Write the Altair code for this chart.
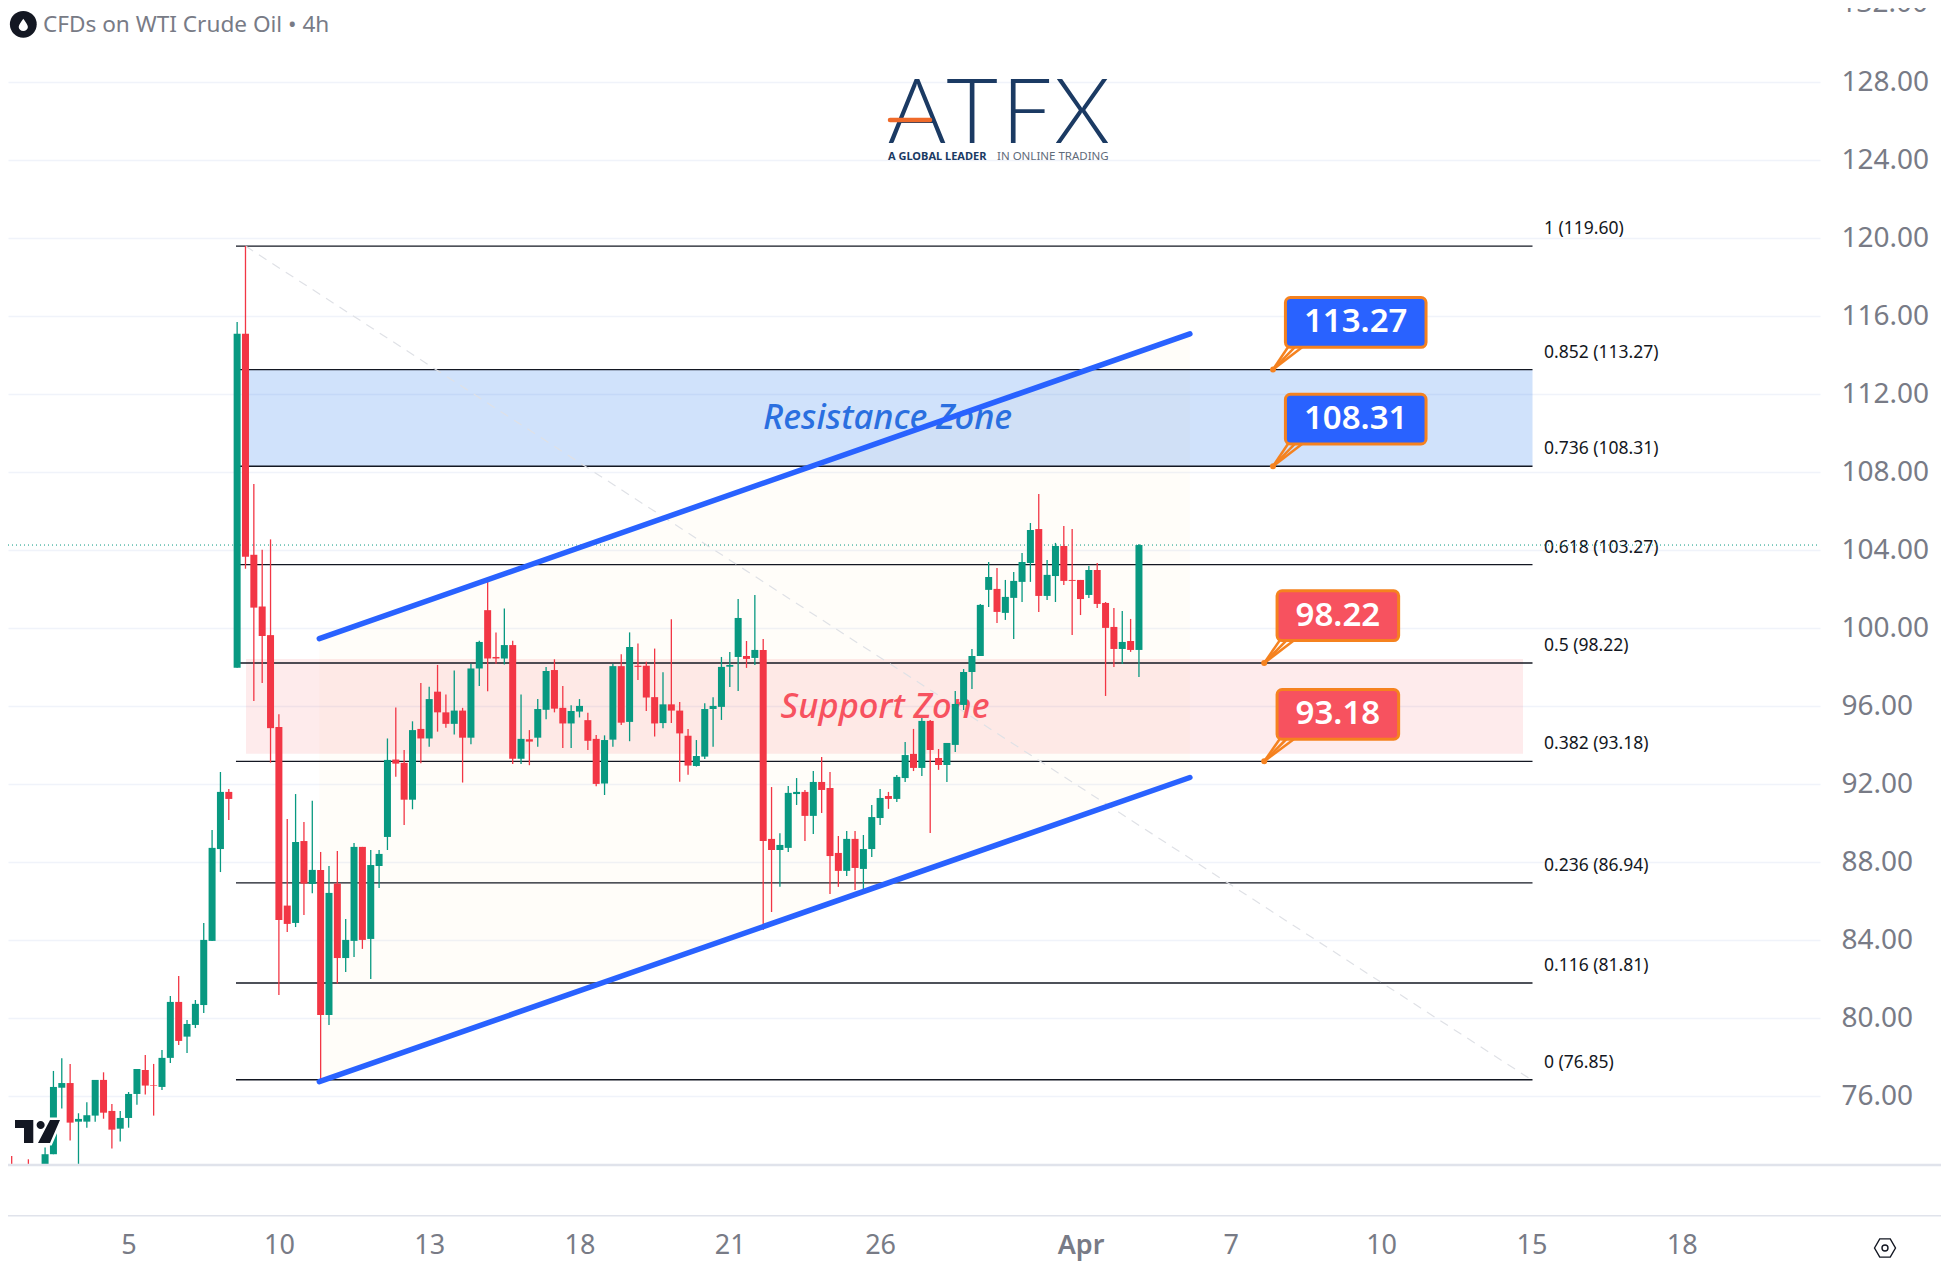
import altair as alt
import pandas as pd

# price per 4h bar
opens = [72.0, 72.4, 71.8, 72.3, 72.0, 72.1, 73.03, 76.44, 76.68, 74.70, 74.70, 75.01, 76.84, 75.25, 74.34, 74.89,
         76.12, 77.35, 76.58, 76.48, 77.97, 80.84, 79.06, 79.66, 80.68, 83.97, 88.68, 91.61, 97.98, 115.10, 103.77,
         101.12, 99.65, 94.94, 85.78, 84.89, 89.09, 86.89, 87.61, 80.17, 86.91, 83.09, 83.97, 88.79, 84.07, 87.81,
         89.30, 93.27, 93.10, 91.21, 94.84, 94.35, 96.75, 95.69, 95.10, 95.78, 94.39, 97.94, 100.93, 98.53, 98.45,
         99.14, 93.31, 94.31, 94.39, 95.82, 97.86, 95.92, 95.12, 95.73, 95.29, 94.33, 92.04, 94.29, 98.06, 95.20,
         98.08, 98.08, 96.47, 95.14, 96.10, 95.78, 94.49, 92.94, 93.42, 95.86, 95.97, 98.03, 98.53, 98.58, 98.48,
         98.89, 89.20, 88.63, 88.74, 91.50, 91.61, 90.38, 92.12, 91.81, 88.48, 87.56, 89.20, 87.66, 88.68, 90.27,
         91.40, 91.25, 92.32, 93.56, 92.84, 95.25, 93.35, 92.99, 94.02, 96.07, 97.76, 98.58, 101.97, 102.02, 100.79,
         101.56, 102.38, 103.35, 105.09, 101.66, 102.68, 104.22, 102.48, 102.48, 101.71, 102.99, 101.30, 100.07,
         98.94, 99.35, 98.89]
highs = [73.33, 72.94, 72.3, 72.77, 72.4, 73.38, 77.30, 77.95, 77.66, 75.13, 75.69, 76.84, 77.23, 75.61, 75.25, 76.22,
         77.40, 78.12, 77.66, 78.38, 81.15, 82.17, 79.91, 80.94, 84.89, 89.66, 92.63, 91.76, 115.71, 119.60, 107.40,
         104.03, 104.56, 95.59, 90.22, 91.50, 90.07, 91.15, 88.53, 87.81, 88.58, 85.09, 88.99, 88.79, 88.63, 88.63,
         94.35, 95.94, 93.76, 95.23, 97.20, 97.00, 98.12, 96.61, 97.84, 95.92, 98.18, 99.36, 102.40, 99.79, 101.02,
         99.36, 96.61, 94.78, 96.37, 98.02, 98.41, 97.04, 96.06, 96.37, 95.67, 94.53, 94.51, 98.18, 98.67, 99.79,
         99.22, 98.28, 98.96, 97.75, 100.47, 96.22, 94.84, 94.27, 96.15, 96.46, 98.53, 98.79, 101.50, 99.35, 101.71,
         99.45, 91.86, 89.49, 91.91, 92.32, 91.71, 92.68, 93.40, 92.63, 89.35, 89.61, 89.61, 89.40, 90.94, 91.76,
         91.61, 92.48, 94.17, 94.84, 95.40, 95.30, 93.81, 94.12, 96.79, 97.91, 98.94, 101.25, 103.40, 103.09, 102.48,
         102.89, 103.86, 105.40, 106.89, 103.50, 104.38, 105.25, 105.09, 102.48, 103.20, 103.35, 101.35, 101.04,
         100.89, 100.48, 104.32]
lows = [71.9, 71.8, 71.7, 71.9, 71.9, 72.0, 73.03, 75.38, 73.73, 72.53, 74.39, 74.70, 74.85, 73.32, 73.68, 74.39,
        75.57, 76.09, 75.01, 76.32, 77.71, 78.63, 78.22, 79.50, 80.27, 83.97, 87.50, 90.17, 97.98, 103.05, 96.27,
        97.20, 93.11, 81.20, 84.43, 84.68, 85.30, 86.41, 76.85, 79.66, 81.79, 82.38, 83.15, 83.56, 82.02, 86.68,
        88.63, 92.39, 89.91, 90.72, 93.08, 93.92, 94.70, 94.90, 94.55, 92.09, 94.06, 97.04, 96.77, 98.18, 98.14,
        93.04, 93.04, 92.98, 93.92, 95.33, 95.69, 93.86, 93.86, 95.43, 93.76, 91.90, 91.45, 93.92, 95.04, 94.21,
        97.35, 95.76, 94.45, 94.88, 95.14, 92.13, 92.49, 92.91, 93.30, 93.93, 95.30, 96.99, 96.79, 97.97, 98.12,
        84.53, 85.45, 86.74, 88.53, 90.94, 89.09, 89.45, 90.53, 86.38, 86.74, 87.30, 86.58, 86.58, 88.27, 89.91,
        90.74, 91.09, 92.12, 92.68, 92.43, 89.50, 92.74, 92.12, 93.66, 95.81, 96.89, 98.58, 101.09, 100.27, 100.43,
        99.45, 101.35, 102.38, 100.84, 101.45, 101.35, 102.22, 99.66, 100.68, 101.56, 101.04, 96.53, 98.02,
        98.17, 98.79, 97.50]
closes = [72.3, 72.0, 72.1, 72.0, 72.3, 73.03, 76.48, 76.68, 74.65, 74.84, 75.03, 76.84, 75.16, 74.29, 74.89, 76.12,
          77.40, 76.55, 76.55, 77.97, 80.84, 78.84, 79.71, 80.74, 84.02, 88.74, 91.61, 91.25, 115.10, 103.67, 101.06,
          99.61, 94.88, 85.04, 84.84, 89.04, 86.91, 87.61, 80.17, 86.43, 83.09, 84.02, 88.79, 84.02, 87.86, 88.43,
          93.25, 93.06, 91.21, 94.78, 94.35, 96.37, 95.69, 95.10, 95.78, 94.39, 97.94, 99.30, 98.45, 98.45, 99.14,
          93.31, 94.33, 94.19, 95.86, 97.81, 95.88, 95.12, 95.76, 96.02, 94.23, 92.02, 94.27, 98.06, 95.16, 99.04,
          98.02, 96.45, 95.12, 96.10, 95.78, 94.61, 92.96, 93.45, 95.86, 96.02, 98.02, 98.12, 100.53, 98.43, 98.89,
          89.09, 88.63, 88.89, 91.56, 91.61, 90.38, 92.12, 91.71, 88.32, 87.56, 89.20, 87.71, 88.68, 90.32, 91.30,
          91.25, 92.38, 93.50, 92.84, 95.25, 93.76, 92.99, 94.12, 96.12, 97.76, 98.58, 101.20, 102.63, 100.84, 101.61,
          102.43, 103.40, 105.04, 101.66, 102.74, 104.22, 102.43, 102.43, 101.50, 102.99, 101.25, 100.02, 98.94,
          99.30, 98.89, 104.27]

fib_levels = ["1", "0.852", "0.736", "0.618", "0.5", "0.382", "0.236", "0.116", "0"]
fib_prices = [119.60, 113.27, 108.31, 103.27, 98.22, 93.18, 86.94, 81.81, 76.85]

price_ticks = [76, 80, 84, 88, 92, 96, 100, 104, 108, 112, 116, 120, 124, 128]
date_ticks = [15, 33, 51, 69, 87, 105, 129, 147, 165, 183, 201]
date_labels = ["5", "10", "13", "18", "21", "26", "Apr", "7", "10", "15", "18"]

channel_bars = [37.84, 142.1]
channel_upper = [99.47, 115.10]
channel_lower = [76.75, 92.35]

callout_labels = ["113.27", "108.31", "98.22", "93.18"]
callout_left = [153.54, 153.54, 152.54, 152.54]
callout_right = [170.38, 170.38, 167.1, 167.1]
callout_top = [116.96, 112.0, 101.92, 96.86]
callout_bottom = [114.41, 109.45, 99.37, 94.31]
callout_anchor = [152.05, 152.05, 151.0, 151.0]
callout_price = [113.27, 108.31, 98.22, 93.18]
callout_fill = ["#2962ff", "#2962ff", "#f7525f", "#f7525f"]

FONT = "Noto Sans"
GREY = "#787b86"
ORANGE = "#f5821f"
RED = "#f23645"
GREEN = "#089981"

x_scale = alt.Scale(domain=[0.559, 217.56], nice=False, zero=False, padding=0)
y_scale = alt.Scale(domain=[72.477, 131.81], nice=False, zero=False, padding=0)

x_axis = alt.Axis(
    values=date_ticks,
    labelExpr=f"{date_labels}[indexof({date_ticks}, datum.value)]",
    grid=False, domain=False, ticks=False, title=None,
    labelFont=FONT, labelFontSize=27, labelColor=GREY,
    labelFontWeight=alt.condition("datum.value == 129", alt.value(600), alt.value(400)),
    labelPadding=67, labelOverlap=False, labelFlush=False,
)
y_axis = alt.Axis(
    orient="right",
    values=price_ticks,
    format=".2f",
    grid=True, gridColor="#f0f3fa", gridWidth=1.3, title=None,
    domain=False, ticks=False,
    labelFont=FONT, labelFontSize=28, labelColor=GREY,
    labelPadding=21, labelOverlap=False, labelFlush=False,
)


def x_pos(field):
    return alt.X(field, type="quantitative", scale=x_scale, axis=x_axis)


def y_pos(field):
    return alt.Y(field, type="quantitative", scale=y_scale, axis=y_axis)


candles = pd.DataFrame({"bar": list(range(len(opens))), "open": opens, "high": highs, "low": lows, "close": closes})
candles["side"] = ["up" if c >= o else "down" for o, c in zip(opens, closes)]
side_color = alt.Color("side:N", scale=alt.Scale(domain=["up", "down"], range=[GREEN, RED]), legend=None)

fibs = pd.DataFrame({"price": fib_prices, "start": 27.86, "end": 183.13, "label_x": 184.5})
fibs["label"] = [f"{lv} ({p:.2f})" for lv, p in zip(fib_levels, fib_prices)]

channel = pd.DataFrame({"bar": channel_bars, "upper": channel_upper, "lower": channel_lower})

zones = pd.DataFrame({
    "left": [29.06, 29.06], "right": [183.13, 181.99],
    "top": [113.27, 98.42], "bottom": [108.31, 93.57],
    "fill": ["#2979ef", "#f23645"], "opacity": [0.22, 0.1],
})
zone_text = pd.DataFrame({
    "label": ["Resistance Zone", "Support Zone"], "bar": [105.9, 105.6], "price": [110.74, 95.93],
    "fill": ["#2a6fe0", "#f7525f"],
})

callouts = pd.DataFrame({
    "label": callout_labels, "left": callout_left, "right": callout_right, "top": callout_top,
    "bottom": callout_bottom, "anchor": callout_anchor, "price": callout_price, "fill": callout_fill,
})
callouts["mid"] = [(t + b) / 2 for t, b in zip(callout_top, callout_bottom)]
callouts["center"] = [(l + r) / 2 for l, r in zip(callout_left, callout_right)]
callouts["tail_a"] = [l + 0.3 for l in callout_left]
callouts["tail_b"] = [l + 2.0 for l in callout_left]
callouts["tail_c"] = [l + 1.1 for l in callout_left]

blank = pd.DataFrame({"a": [0]})


def pinned_text(text, x, y, **style):
    # page pixels, the chart itself starts at 8,8
    return (
        alt.Chart(blank)
        .mark_text(text=text, **style)
        .encode(x=alt.value(x - 8), y=alt.value(y - 8))
    )


def pinned_shape(path, x, y, size, **style):
    return (
        alt.Chart(blank)
        .mark_point(shape=path, size=size, **style)
        .encode(x=alt.value(x - 8), y=alt.value(y - 8))
    )


def page_rule(y, width):
    return (
        alt.Chart(blank)
        .mark_rule(color="#e0e3eb", strokeWidth=width)
        .encode(x=alt.value(-8), x2=alt.value(1933), y=alt.value(y - 8))
    )


channel_fill = (
    alt.Chart(channel)
    .mark_area(color="#ff9800", opacity=0.025)
    .encode(x=x_pos("bar"), y=y_pos("upper"), y2="lower:Q")
)
zone_rects = (
    alt.Chart(zones)
    .mark_rect()
    .encode(
        x=x_pos("left"), x2="right:Q", y=y_pos("top"), y2="bottom:Q",
        color=alt.Color("fill:N", scale=None),
        opacity=alt.Opacity("opacity:Q", scale=None),
    )
)
fib_rules = (
    alt.Chart(fibs)
    .mark_rule(color="#131722", strokeWidth=1.3)
    .encode(x=x_pos("start"), x2="end:Q", y=y_pos("price"))
)
fib_text = (
    alt.Chart(fibs)
    .mark_text(font=FONT, fontSize=17.5, color="#131722", align="left", baseline="middle", dy=-17)
    .encode(x=x_pos("label_x"), y=y_pos("price"), text="label:N")
)
diagonal = (
    alt.Chart(pd.DataFrame({"bar": [29, 183], "price": [119.60, 76.85]}))
    .mark_line(color="#dfe1e6", strokeWidth=1.2, strokeDash=[9, 7])
    .encode(x=x_pos("bar"), y=y_pos("price"))
)
last_price = (
    alt.Chart(pd.DataFrame({"price": [closes[-1]]}))
    .mark_rule(color=GREEN, strokeWidth=1, strokeDash=[1, 3])
    .encode(x=alt.value(0), x2=alt.value(1812), y=y_pos("price"))
)
zone_labels = (
    alt.Chart(zone_text)
    .mark_text(font=FONT, fontSize=34.5, fontStyle="italic", fontWeight=500, baseline="middle")
    .encode(x=x_pos("bar"), y=y_pos("price"), text="label:N", color=alt.Color("fill:N", scale=None))
)
wicks = (
    alt.Chart(candles)
    .mark_rule(strokeWidth=1.3, clip=True)
    .encode(x=x_pos("bar"), y=y_pos("low"), y2="high:Q", color=side_color)
)
bodies = (
    alt.Chart(candles)
    .mark_bar(size=7, orient="vertical", clip=True)
    .encode(x=x_pos("bar"), y=y_pos("open"), y2="close:Q", color=side_color)
)


def channel_line(field):
    return (
        alt.Chart(channel)
        .mark_line(color="#2962ff", strokeWidth=5.5, strokeCap="round")
        .encode(x=x_pos("bar"), y=y_pos(field))
    )


def tail(end_field, width):
    return (
        alt.Chart(callouts)
        .mark_rule(color=ORANGE, strokeWidth=width)
        .encode(x=x_pos("anchor"), x2=f"{end_field}:Q", y=y_pos("price"), y2="bottom:Q")
    )


anchor_dots = (
    alt.Chart(callouts)
    .mark_point(filled=True, color=ORANGE, size=36, opacity=1)
    .encode(x=x_pos("anchor"), y=y_pos("price"))
)
callout_boxes = (
    alt.Chart(callouts)
    .mark_rect(stroke=ORANGE, strokeWidth=3, cornerRadius=5)
    .encode(
        x=x_pos("left"), x2="right:Q", y=y_pos("top"), y2="bottom:Q",
        color=alt.Color("fill:N", scale=None),
    )
)
callout_text = (
    alt.Chart(callouts)
    .mark_text(font=FONT, fontSize=33, fontWeight=600, color="white", baseline="middle")
    .encode(x=x_pos("center"), y=y_pos("mid"), text="label:N")
)

TV_LOGO = (
    "M-1,-0.51 H-0.187 V0.51 H-0.6 V-0.16 H-1 Z "
    "M0.32,-0.29 A0.18,0.18 0 1 1 -0.04,-0.29 A0.18,0.18 0 1 1 0.32,-0.29 Z "
    "M0.556,-0.51 H1 L0.556,0.51 H0.022 Z"
)
HEXAGON = "M-1,0 L-0.5,-0.87 L0.5,-0.87 L1,0 L0.5,0.87 L-0.5,0.87 Z"
DROP = "M0,-1 C0.35,-0.45 0.75,-0.05 0.75,0.35 A0.75,0.65 0 0 1 -0.75,0.35 C-0.75,-0.05 -0.35,-0.45 0,-1 Z"

LOGO_STYLE = dict(font="Lato", fontSize=90, fontWeight=300, color="#1b3a63", align="center", baseline="alphabetic")

decor = [
    page_rule(1165, 2.5),
    page_rule(1215.7, 1.5),
    # top tick sits half outside the page, the axis drops it
    pinned_text("132.00", 1840.5, 4.3, font=FONT, fontSize=28, color=GREY, align="left", baseline="middle"),
    # symbol title
    pinned_shape("circle", 23.3, 24.3, 720, filled=True, color="#131722", opacity=1),
    pinned_shape(DROP, 23.3, 24.8, 150, filled=True, color="white", opacity=1),
    pinned_text("CFDs on WTI Crude Oil • 4h", 43, 24.5, font=FONT, fontSize=22.6, color=GREY,
                align="left", baseline="middle"),
    # broker logo
    pinned_text("A", 917, 143, **LOGO_STYLE),
    pinned_text("T", 972, 143, **LOGO_STYLE),
    pinned_text("F", 1027, 143, **LOGO_STYLE),
    pinned_text("X", 1082, 143, **LOGO_STYLE),
    alt.Chart(blank)
    .mark_rule(color="#ef6a2a", strokeWidth=4.5, strokeCap="round")
    .encode(x=alt.value(882), x2=alt.value(922), y=alt.value(112)),
    pinned_text("A GLOBAL LEADER", 888, 157, font=FONT, fontSize=11, fontWeight=700, color="#1b3a63",
                align="left", baseline="middle"),
    pinned_text("IN ONLINE TRADING", 997, 157, font=FONT, fontSize=11.5, color="#5f6b7a",
                align="left", baseline="middle"),
    # tradingview mark and settings hexagon
    pinned_shape(TV_LOGO, 37.5, 1131.5, 2025, filled=True, color="white", stroke="white", strokeWidth=5, opacity=1),
    pinned_shape(TV_LOGO, 37.5, 1131.5, 2025, filled=True, color="#131722", opacity=1),
    pinned_shape(HEXAGON, 1885, 1248, 440, filled=False, color="#131722", strokeWidth=1.4, opacity=1),
    pinned_shape("circle", 1885, 1248, 36, filled=False, color="#131722", strokeWidth=1.4, opacity=1),
]

chart = alt.layer(
    channel_fill,
    zone_rects,
    fib_rules,
    fib_text,
    diagonal,
    last_price,
    zone_labels,
    wicks,
    bodies,
    channel_line("upper"),
    channel_line("lower"),
    tail("tail_a", 2.5),
    tail("tail_b", 2.5),
    tail("tail_c", 2.5),
    anchor_dots,
    callout_boxes,
    callout_text,
    *decor,
).properties(
    width=1812,
    height=1157,
    autosize=alt.AutoSizeParams(type="none"),
    padding={"left": 0, "top": 0, "right": 121, "bottom": 96},
).configure_view(stroke=None)

chart.save("out.html", embed_options={"renderer": "svg", "actions": False})
